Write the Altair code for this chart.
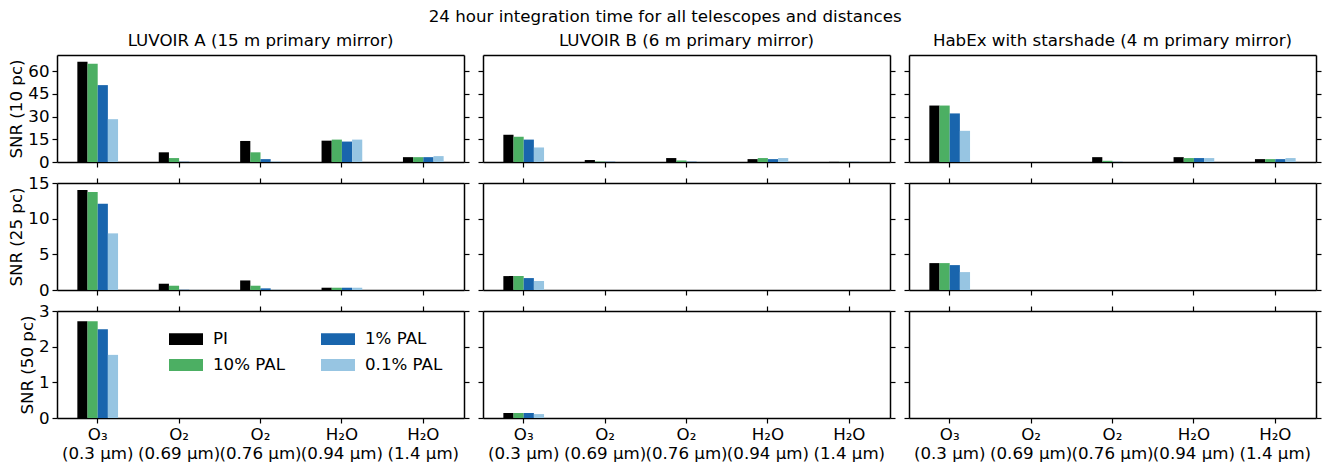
import altair as alt
import pandas as pd

# ---- data ----
categories = ["O₃|(0.3 μm)", "O₂|(0.69 μm)", "O₂|(0.76 μm)", "H₂O|(0.94 μm)", "H₂O|(1.4 μm)"]
series = ["PI", "10% PAL", "1% PAL", "0.1% PAL"]
series_colors = ["#000000", "#4caf63", "#1965ad", "#97c5e2"]

telescopes = ["LUVOIR A (15 m primary mirror)",
              "LUVOIR B (6 m primary mirror)",
              "HabEx with starshade (4 m primary mirror)"]
distances = ["10 pc", "25 pc", "50 pc"]
row_max = [70.7, 15.0, 3.0]
row_ticks = [[0, 15, 30, 45, 60], [0, 5, 10, 15], [0, 1, 2, 3]]

# each panel: one list per series (PI, 10% PAL, 1% PAL, 0.1% PAL), one value per category
luvoir_a_10pc = [[66.2, 6.4, 13.9, 14.1, 3.2],
                 [64.9, 2.6, 6.4, 14.8, 3.2],
                 [50.8, 0.2, 1.9, 13.5, 3.2],
                 [28.3, 0.1, 0.3, 14.8, 3.9]]
luvoir_b_10pc = [[18.0, 1.3, 2.6, 1.9, 0.1],
                 [16.7, 0.3, 1.0, 2.6, 0.1],
                 [14.8, 0.1, 0.2, 1.9, 0.1],
                 [9.6, 0.0, 0.1, 2.6, 0.1]]
habex_10pc = [[37.3, 0.0, 3.2, 3.2, 1.9],
              [37.3, 0.0, 0.8, 2.6, 1.9],
              [32.1, 0.0, 0.1, 2.6, 1.9],
              [20.6, 0.0, 0.0, 2.6, 2.6]]
luvoir_a_25pc = [[14.03, 0.88, 1.34, 0.32, 0.0],
                 [13.75, 0.60, 0.60, 0.32, 0.0],
                 [12.09, 0.03, 0.23, 0.32, 0.0],
                 [7.94, 0.01, 0.03, 0.32, 0.0]]
luvoir_b_25pc = [[1.95, 0.0, 0.0, 0.0, 0.0],
                 [1.95, 0.0, 0.0, 0.0, 0.0],
                 [1.67, 0.0, 0.0, 0.0, 0.0],
                 [1.26, 0.0, 0.0, 0.0, 0.0]]
habex_25pc = [[3.77, 0.0, 0.0, 0.0, 0.0],
              [3.77, 0.0, 0.0, 0.0, 0.0],
              [3.49, 0.0, 0.0, 0.0, 0.0],
              [2.51, 0.0, 0.0, 0.0, 0.0]]
luvoir_a_50pc = [[2.71, 0.0, 0.0, 0.0, 0.0],
                 [2.71, 0.0, 0.0, 0.0, 0.0],
                 [2.49, 0.0, 0.0, 0.0, 0.0],
                 [1.77, 0.0, 0.0, 0.0, 0.0]]
luvoir_b_50pc = [[0.14, 0.0, 0.0, 0.0, 0.0],
                 [0.14, 0.0, 0.0, 0.0, 0.0],
                 [0.14, 0.0, 0.0, 0.0, 0.0],
                 [0.11, 0.0, 0.0, 0.0, 0.0]]
habex_50pc = [[0.0, 0.0, 0.0, 0.0, 0.0],
              [0.0, 0.0, 0.0, 0.0, 0.0],
              [0.0, 0.0, 0.0, 0.0, 0.0],
              [0.0, 0.0, 0.0, 0.0, 0.0]]

grid = [[luvoir_a_10pc, luvoir_b_10pc, habex_10pc],
        [luvoir_a_25pc, luvoir_b_25pc, habex_25pc],
        [luvoir_a_50pc, luvoir_b_50pc, habex_50pc]]

FONT = "DejaVu Sans"
FS = 16.67
PW, PH = 407, 107


def make_panel(values, r, c):
    recs = []
    for s, vals in zip(series, values):
        for cat, v in zip(categories, vals):
            recs.append({"cat": cat, "series": s, "snr": v})
    df = pd.DataFrame(recs)

    xscale = alt.Scale(domain=categories, paddingInner=0.5, paddingOuter=0.25)
    yscale = alt.Scale(domain=[0, row_max[r]], nice=False, zero=True)

    bottom_kw = dict(orient="bottom", title=None, labels=(r == 2), ticks=True,
                     labelAngle=0, domain=True)
    if r == 2:
        bottom_kw["labelExpr"] = "split(datum.label, '|')"
    left_kw = dict(orient="left", labels=(c == 0), values=row_ticks[r], ticks=True, domain=True)
    if c == 0:
        left_kw["title"] = "SNR (" + distances[r] + ")"
    else:
        left_kw["title"] = None

    if c == 0 and r == 2:
        legend = alt.Legend(title=None, orient="none", legendX=112, legendY=11,
                            columns=2, symbolType="M-1,-0.35H1V0.35H-1Z",
                            symbolSize=1156, symbolStrokeWidth=0, symbolOpacity=1,
                            labelFontSize=FS, labelFont=FONT, labelColor="black",
                            labelOffset=10, columnPadding=36, rowPadding=0)
    else:
        legend = None

    bars = alt.Chart(df).mark_bar(strokeWidth=0).encode(
        x=alt.X("cat:N", sort=categories, scale=xscale, axis=alt.Axis(**bottom_kw)),
        xOffset=alt.XOffset("series:N", sort=series,
                            scale=alt.Scale(domain=series, paddingInner=0, paddingOuter=0)),
        y=alt.Y("snr:Q", scale=yscale, axis=alt.Axis(**left_kw)),
        color=alt.Color("series:N", scale=alt.Scale(domain=series, range=series_colors),
                        legend=legend),
    )

    top_kw = dict(orient="top", title=None, labels=False, domain=True, ticks=(r > 0))
    right_kw = dict(orient="right", title=None, labels=False, domain=True, ticks=True,
                    values=row_ticks[r])
    frame = alt.Chart(df).mark_point(opacity=0).encode(
        x=alt.X("cat:N", sort=categories, scale=xscale, axis=alt.Axis(**top_kw)),
        y=alt.Y("snr:Q", scale=yscale, axis=alt.Axis(**right_kw)),
    )

    props = dict(width=PW, height=PH)
    if r == 0:
        props["title"] = alt.TitleParams(telescopes[c], fontSize=FS, fontWeight="normal",
                                         font=FONT, color="black", offset=5)
    return alt.layer(bars, frame).resolve_axis(x="independent", y="independent").properties(**props)


panels = []
for r in range(3):
    for c in range(3):
        panels.append(make_panel(grid[r][c], r, c))

chart = alt.concat(*panels, columns=3, spacing={"row": 21, "column": 19}, bounds="flush").resolve_scale(
    color="independent", x="independent", y="independent"
).resolve_legend(color="independent").properties(
    title=alt.TitleParams("24 hour integration time for all telescopes and distances",
                          fontSize=FS, fontWeight="normal", font=FONT, color="black",
                          anchor="middle", offset=8),
    padding={"left": 0, "top": 0, "right": 0, "bottom": 0},
).configure(font=FONT).configure_view(stroke=None).configure_axis(
    labelFont=FONT, labelFontSize=FS, labelColor="black",
    titleFont=FONT, titleFontSize=FS, titleFontWeight="normal", titleColor="black",
    tickColor="black", tickWidth=1.2, tickSize=5, domainColor="black", domainWidth=1.5,
    grid=False, zindex=1, labelPadding=3, titlePadding=2, labelLineHeight=19,
)

chart.save("out.html", embed_options={"renderer": "svg", "actions": False})
